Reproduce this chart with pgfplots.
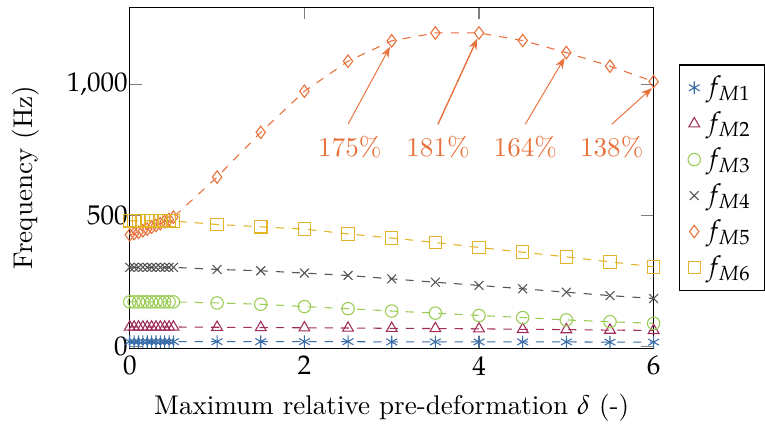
\documentclass[border=0pt]{standalone}
\usepackage{mathpazo}
\usepackage{pgfplots}
\pgfplotsset{compat=1.18}
\usetikzlibrary{arrows.meta}
\definecolor{c1}{RGB}{58,108,168}
\definecolor{c2}{RGB}{160,45,90}
\definecolor{c3}{RGB}{154,204,84}
\definecolor{c4}{RGB}{85,85,85}
\definecolor{c5}{RGB}{232,112,58}
\definecolor{c6}{RGB}{228,180,40}
\pgfplotstableread{
x m1 m2 m3 m4 m5 m6
0    17 73 169 301 425 479
0.05 17 73 169 301 430 479
0.1  17 73 169 301 435 479
0.15 17 73 169 301 441 479
0.2  17 73 169 301 447 479
0.25 17 73 169 301 454 479
0.3  17 73 169 301 461 479
0.35 17 73 169 301 468 479
0.4  17 73 169 301 476 479
0.45 17 73 169 301 484 479
0.5  17 73 169 301 493 478
1    17 72 165 293 646 465
1.5  17 71 160 288 817 456
2    17 70 151 279 974 447
2.5  17 69 143 270 1089 429
3    16 68 134 257 1167 413
3.5  16 67 126 244 1197 396
4    16 66 117 232 1197 377
4.5  16 64 109 219 1168 359
5    16 63 100 206 1122 341
5.5  15 61 93 193 1070 322
6    15 60 87 182 1011 303
}\data
\begin{document}
\begin{tikzpicture}
\begin{axis}[
  scale only axis, width=193.5pt, height=126pt,
  xmin=0, xmax=6, ymin=-8, ymax=1296,
  xtick={0,2,4,6}, ytick={0,500,1000},
  xlabel={Maximum relative pre-deformation $\delta$ (-)},
  ylabel={Frequency (Hz)},
  xticklabel style={yshift=0.5pt},
  yticklabel style={xshift=2.8pt},
  ylabel style={yshift=3.5pt},
  tick style={gray, line width=0.4pt}, major tick length=4.5pt,
  tick align=inside,
  legend style={at={(1,0.5)}, anchor=west, xshift=9.5pt, draw=black, row sep=0.5pt},
  legend cell align=left,
  every axis plot/.append style={dashed, line width=0.4pt, mark size=2.3pt, mark options={solid}},
]
\addplot[c1, mark=asterisk, forget plot] table[x=x,y=m1]{\data};
\addplot[c2, mark=triangle, forget plot] table[x=x,y=m2]{\data};
\addplot[c3, mark=o, forget plot] table[x=x,y=m3]{\data};
\addplot[c4, mark=x, forget plot] table[x=x,y=m4]{\data};
\addplot[c5, mark=diamond, forget plot] table[x=x,y=m5]{\data};
\addplot[c6, mark=square, forget plot] table[x=x,y=m6]{\data};
\addlegendimage{only marks, c1, mark=asterisk}\addlegendentry{$f_{M1}$}
\addlegendimage{only marks, c2, mark=triangle}\addlegendentry{$f_{M2}$}
\addlegendimage{only marks, c3, mark=o}\addlegendentry{$f_{M3}$}
\addlegendimage{only marks, c4, mark=x}\addlegendentry{$f_{M4}$}
\addlegendimage{only marks, c5, mark=diamond}\addlegendentry{$f_{M5}$}
\addlegendimage{only marks, c6, mark=square}\addlegendentry{$f_{M6}$}
\draw[c5, line width=0.35pt, -{Stealth[length=4pt,width=3pt]}] (axis cs:2.5,848) -- (axis cs:2.98,1144);
\draw[c5, line width=0.5pt, -{Stealth[length=4pt,width=3pt]}] (axis cs:3.53,848) -- (axis cs:3.98,1175);
\draw[c5, line width=0.35pt, -{Stealth[length=4pt,width=3pt]}] (axis cs:4.53,848) -- (axis cs:4.98,1102);
\draw[c5, line width=0.35pt, -{Stealth[length=4pt,width=3pt]}] (axis cs:5.52,848) -- (axis cs:5.98,986);
\node[c5] at (axis cs:2.52,759) {175\%};
\node[c5, font=\bfseries] at (axis cs:3.53,759) {181\%};
\node[c5] at (axis cs:4.53,759) {164\%};
\node[c5] at (axis cs:5.52,759) {138\%};
\end{axis}
\path ([yshift=2.6pt]current axis.north) ;
\path ([xshift=-1pt]current axis.west -| current bounding box.west) ;
\end{tikzpicture}
\end{document}
